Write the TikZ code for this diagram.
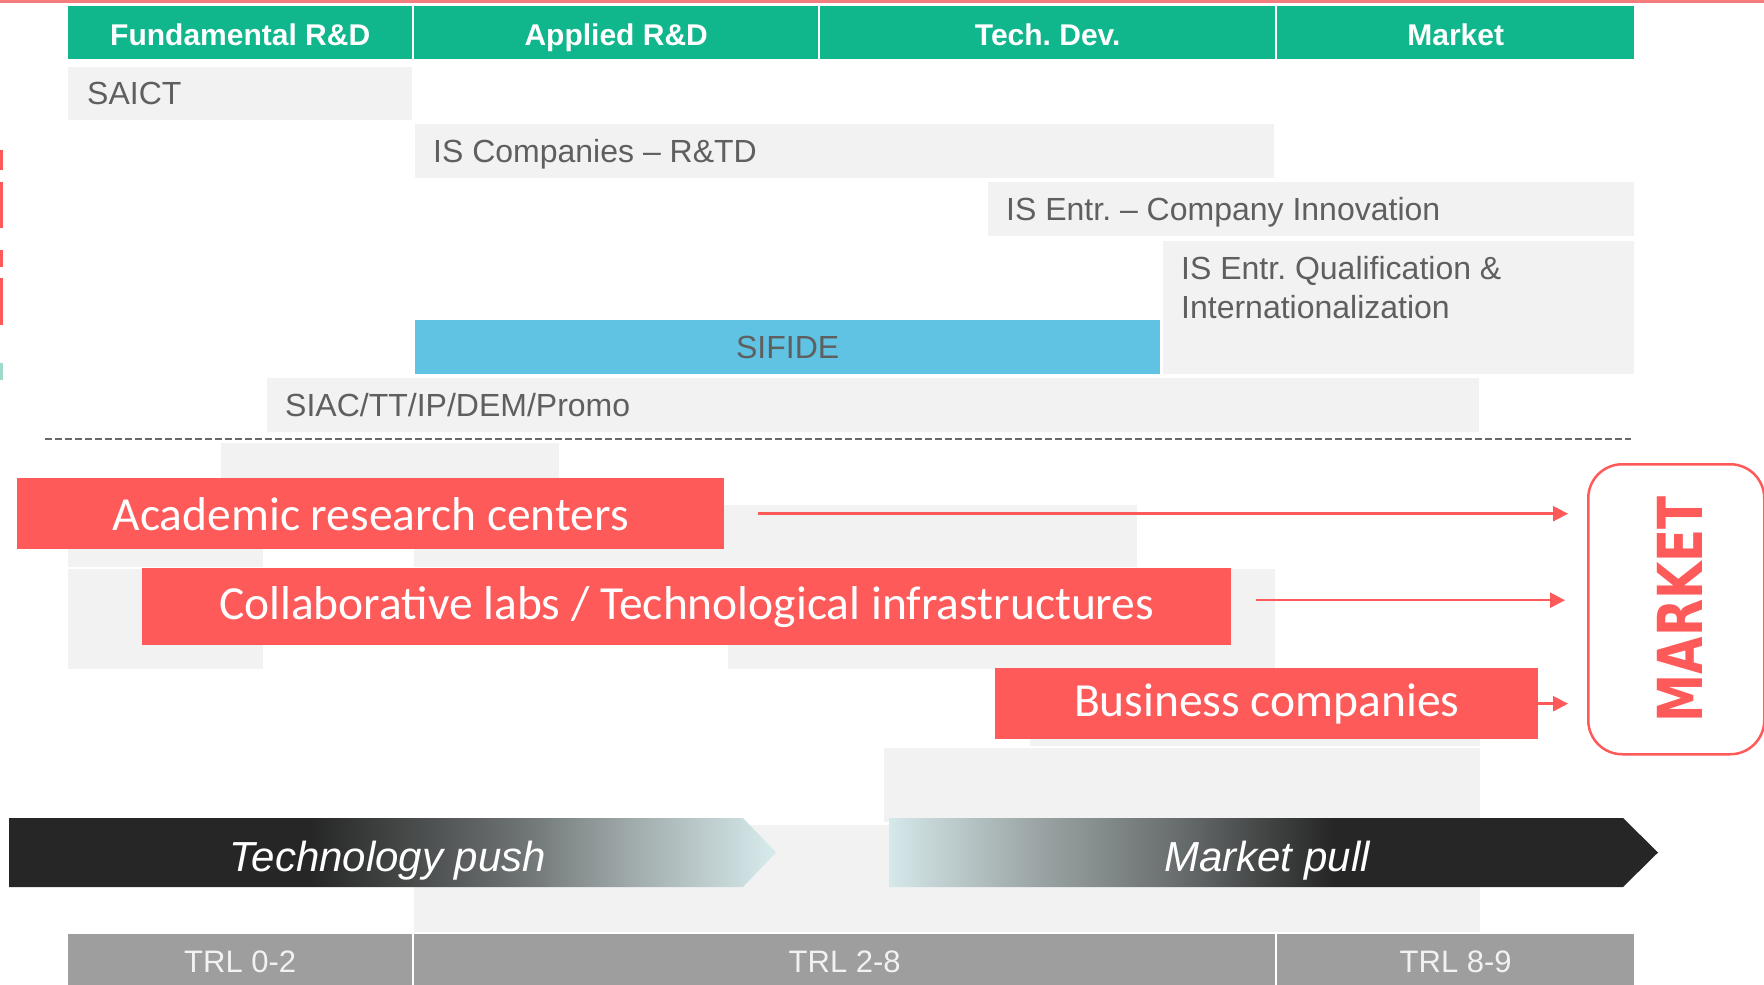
\documentclass[tikz,border=0pt]{standalone}
\usepackage{fontspec}
\setmainfont{Liberation Sans}
\newfontfamily\calib{Carlito}
\newfontfamily\djv{DejaVu Sans}
\usetikzlibrary{arrows.meta}
\frenchspacing
\definecolor{hdrgreen}{RGB}{16,182,140}
\definecolor{boxgrey}{RGB}{242,242,242}
\definecolor{txtgrey}{RGB}{95,95,95}
\definecolor{sifblue}{RGB}{96,195,227}
\definecolor{redbox}{RGB}{255,90,90}
\definecolor{trlgrey}{RGB}{158,158,158}
\definecolor{darkarr}{RGB}{38,38,38}
\definecolor{lightcyan}{RGB}{213,232,234}
\definecolor{midgreyA}{RGB}{107,112,112}
\definecolor{midgreyB}{RGB}{160,170,170}
\definecolor{topline}{RGB}{244,124,124}
\definecolor{dashgrey}{RGB}{105,105,105}
\definecolor{tealmark}{RGB}{160,216,204}
\pgfdeclarehorizontalshading{techpush}{100bp}{color(0bp)=(darkarr); color(44.6bp)=(darkarr); color(58bp)=(midgreyA); color(65.5bp)=(midgreyB); color(74.5bp)=(lightcyan); color(100bp)=(lightcyan)}
\pgfdeclarehorizontalshading{mktpull}{100bp}{color(0bp)=(lightcyan); color(25bp)=(lightcyan); color(33.8bp)=(midgreyB); color(43.3bp)=(midgreyA); color(53.9bp)=(darkarr); color(100bp)=(darkarr)}
\tikzset{
 hdr/.style={fill=hdrgreen, text=white, font=\fontsize{30}{34}\selectfont\bfseries, minimum height=53pt, text height=30pt, text depth=5pt, inner sep=0pt, anchor=north west},
 gbox/.style={fill=boxgrey, inner sep=0pt, anchor=north west},
 lbl/.style={text=txtgrey, font=\fontsize{32}{39}\selectfont, inner sep=0pt, anchor=west, align=left},
 lbl1/.style={lbl, text depth=0pt},
 redb/.style={fill=redbox, text=white, font=\calib\fontsize{47.5}{52}\selectfont, inner sep=0pt, anchor=north west},
 arr/.style={draw=redbox, line width=2.5pt, -{Triangle[length=15pt,width=15pt]}},
 trl/.style={fill=trlgrey, text=boxgrey, font=\fontsize{31}{36}\selectfont, inner sep=0pt, anchor=north west, minimum height=56pt},
 bgpatch/.style={fill=boxgrey},
 pushtxt/.style={text=white, font=\fontsize{42}{48}\selectfont\itshape, inner sep=0pt},
}
\begin{document}
\begin{tikzpicture}[x=1pt,y=-1pt]
\clip (0,0) rectangle (1764,985);
\fill[white] (0,0) rectangle (1764,985);
% top line and left-edge marks
\fill[topline] (0,0) rectangle (1764,2.5);
\fill[redbox] (0,150) rectangle (2.5,170);
\fill[redbox] (0,182) rectangle (2.5,228);
\fill[redbox] (0,250) rectangle (2.5,267);
\fill[redbox] (0,278) rectangle (2.5,325);
\fill[tealmark] (0,363) rectangle (2.5,380);
% header
\node[hdr, minimum width=344pt] (h1) at (68,6) {Fundamental R\&D};
\node[hdr, minimum width=404pt] (h2) at (414,6) {Applied R\&D};
\node[hdr, minimum width=455pt] (h3) at (820,6) {Tech. Dev.};
\node[hdr, minimum width=357pt] (h4) at (1277,6) {Market};
% instrument boxes
\node[gbox, minimum width=344pt, minimum height=53pt] (saict) at (68,67) {};
\node[lbl1] (saictT) at ([xshift=19pt]saict.west) {SAICT};
\node[gbox, minimum width=859pt, minimum height=54pt] (isc) at (415,124) {};
\node[lbl1] (iscT) at ([xshift=18pt]isc.west) {IS Companies -- R\&TD};
\node[gbox, minimum width=646pt, minimum height=54pt] (isi) at (988,182) {};
\node[lbl1] (isiT) at ([xshift=18pt]isi.west) {IS Entr. -- Company Innovation};
\node[gbox, minimum width=471pt, minimum height=133pt] (isq) at (1163,241) {};
\node[lbl] (isqT) at (1181,287.5) {IS Entr. Qualification \&\\Internationalization};
\node[gbox, fill=sifblue, text=txtgrey, font=\fontsize{32}{36}\selectfont, minimum width=745pt, minimum height=54pt] (sif) at (415,320) {SIFIDE};
\node[gbox, minimum width=1212pt, minimum height=54pt] (siac) at (267,378) {};
\node[lbl1] (siacT) at ([xshift=18pt]siac.west) {SIAC/TT/IP/DEM/Promo};
% dashed separator
\draw[dashgrey, line width=2.8pt, dash pattern=on 7pt off 3pt] (45,439) -- (1631,439);
% background patches
\fill[bgpatch] (221,443) rectangle (559,500);
\fill[bgpatch] (68,549) rectangle (263,567);
\fill[bgpatch] (414,505) rectangle (1137,567);
\fill[bgpatch] (68,569) rectangle (263,669);
\fill[bgpatch] (728,569) rectangle (1275,669);
\fill[bgpatch] (1030,700) rectangle (1480,746);
\fill[bgpatch] (884,748) rectangle (1480,822);
\fill[bgpatch] (414,825) rectangle (1480,932);
% red actor boxes
\node[redb, minimum width=707pt, minimum height=71pt] (acad) at (17,478) {Academic research centers};
\node[redb, minimum width=1089pt, minimum height=77pt] (collab) at (142,568) {Collaborative labs / Technological infrastructures};
\node[redb, minimum width=543pt, minimum height=71pt] (bus) at (995,668) {Business companies};
% market box
\node[draw=redbox, line width=2.5pt, rounded corners=34pt, fill=white, inner sep=0pt, anchor=north west, minimum width=176pt, minimum height=290pt] (market) at (1587,463) {};
\node[rotate=90, text=redbox, inner sep=0pt, font=\djv\bfseries\fontsize{62}{70}\selectfont] (mktT) at ([xshift=4pt]market.center) {\scalebox{0.78}[1]{MARKET}};
% arrows
\draw[arr, shorten >=19pt] ([xshift=34pt]acad.east) -- (acad.east -| market.west);
\draw[arr, shorten >=22pt] ([xshift=25pt,yshift=6.5pt]collab.east) -- ([yshift=6.5pt]collab.east -| market.west);
\draw[arr, shorten >=19pt] (bus.east) -- (bus.east -| market.west);
% push / pull arrows
\shade[shading=techpush] (9,818) -- (743,818) -- (776,852.5) -- (743,887) -- (9,887) -- cycle;
\node[pushtxt] (tp) at (388,861) {Technology push};
\shade[shading=mktpull] (889,818) -- (1623,818) -- (1658,852.5) -- (1623,887) -- (889,887) -- cycle;
\node[pushtxt] (mp) at (1267,861) {Market pull};
% TRL bar
\node[trl, minimum width=344pt] (t1) at (68,934) {TRL 0-2};
\node[trl, minimum width=861pt] (t2) at (414,934) {TRL 2-8};
\node[trl, minimum width=357pt] (t3) at (1277,934) {TRL 8-9};
\end{tikzpicture}
\end{document}
